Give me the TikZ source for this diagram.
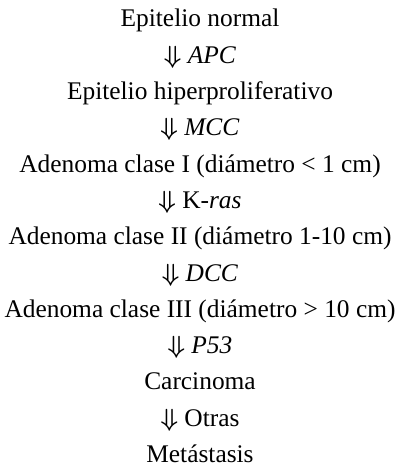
\documentclass[tikz,border=0pt]{standalone}
\usepackage{fontspec}
\setmainfont{Liberation Serif}
\newcommand{\darr}{{\boldmath$\Downarrow$}}
\begin{document}
\begin{tikzpicture}[x=1pt,y=1pt,
  line/.style={anchor=base,inner sep=0pt,font=\fontsize{25.4}{30}\selectfont}]
\useasboundingbox (0,0) rectangle (400,470);
\def\dy{36.3}
\node[line] (n0) at (200,443) {Epitelio normal};
\node[line] (a1) at (200,443-1*\dy) {\darr{} \textit{APC}};
\node[line] (n1) at (200,443-2*\dy) {Epitelio hiperproliferativo};
\node[line] (a2) at (200,443-3*\dy) {\darr{} \textit{MCC}};
\node[line] (n2) at (200,443-4*\dy) {Adenoma clase I (diámetro < 1 cm)};
\node[line] (a3) at (200,443-5*\dy) {\darr{} K-\textit{ras}};
\node[line] (n3) at (200,443-6*\dy) {Adenoma clase II (diámetro 1-10 cm)};
\node[line] (a4) at (200,443-7*\dy) {\darr{} \textit{DCC}};
\node[line] (n4) at (200,443-8*\dy) {Adenoma clase III (diámetro > 10 cm)};
\node[line] (a5) at (200,443-9*\dy) {\darr{} \textit{P53}};
\node[line] (n5) at (200,443-10*\dy) {Carcinoma};
\node[line] (a6) at (200,443-11*\dy) {\darr{} Otras};
\node[line] (n6) at (200,443-12*\dy) {Metástasis};
\end{tikzpicture}
\end{document}
